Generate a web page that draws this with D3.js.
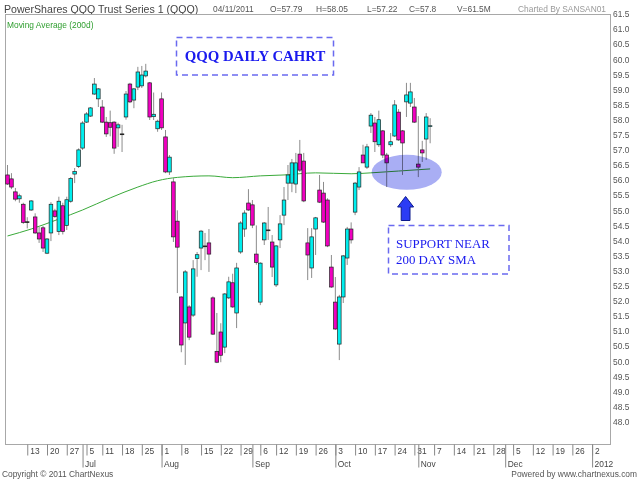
<!DOCTYPE html>
<html>
<head>
<meta charset="utf-8">
<title>QQQ daily</title>
<style>
  body { margin: 0; background: #fff; }
  svg { display: block; }
  text { font-family: "Liberation Sans", Arial, sans-serif; }
  text.serif { font-family: "Liberation Serif", "Times New Roman", serif; }
</style>
</head>
<body>
<script src="https://cdn.jsdelivr.net/npm/d3@7/dist/d3.min.js"></script>
<script>

// daily candles, 6 Jun 2011 .. 4 Nov 2011 (one entry per trading day)
var openV  = [56.17,56.04,55.61,55.38,55.20,54.62,55.01,54.78,54.25,54.42,
              53.58,54.25,54.98,54.30,55.15,54.50,55.30,56.20,56.45,57.06,
              57.92,58.12,58.85,58.69,58.42,57.92,57.90,57.92,57.73,57.53,
              58.09,59.18,58.65,59.08,59.12,59.45,59.22,58.10,57.70,58.69,
              57.43,56.27,55.94,54.64,52.13,51.27,51.80,51.53,53.40,53.75,
              53.82,53.92,52.10,50.33,50.97,50.47,52.10,52.60,51.60,53.62,
              54.38,55.24,55.18,53.55,51.96,54.02,54.35,53.95,52.53,54.02,
              54.84,55.90,55.90,55.87,56.86,56.63,53.92,53.09,54.38,55.67,
              55.57,55.34,53.12,51.96,50.57,52.13,53.42,54.38,54.94,55.77,
              56.83,56.43,57.79,57.89,57.17,57.63,56.83,57.17,57.46,58.25,
              57.63,58.59,58.55,58.42,56.53,57.00,57.36,57.79];
var highV  = [56.50,56.23,55.74,55.55,55.25,54.77,55.34,54.90,54.45,54.48,
              54.08,55.27,55.05,55.45,55.25,55.45,56.10,56.40,57.05,57.95,
              58.25,58.42,59.38,59.05,58.65,58.09,58.30,57.95,57.90,57.83,
              58.95,59.22,59.05,59.75,59.78,59.85,59.25,58.90,58.00,58.90,
              57.66,56.83,56.07,55.00,52.15,53.02,51.86,53.35,53.62,54.35,
              54.25,54.38,52.15,51.60,51.26,52.26,52.80,52.90,53.26,54.64,
              55.00,55.70,55.34,54.50,53.28,54.61,55.11,54.18,53.85,54.84,
              55.77,56.50,56.70,56.90,57.33,56.90,54.41,54.41,54.78,56.17,
              55.94,55.40,53.52,52.79,52.20,53.52,54.45,54.60,55.94,56.43,
              57.17,57.20,58.22,58.09,58.30,57.66,56.90,57.56,58.65,58.35,
              57.66,59.22,59.22,58.72,58.12,57.30,58.22,58.05];
var lowV   = [55.84,55.70,55.30,55.25,54.55,54.40,54.98,54.22,53.92,53.62,
              53.55,53.98,54.75,54.18,54.20,54.35,55.25,55.90,56.40,57.00,
              57.89,58.09,58.82,58.42,57.89,57.43,57.45,56.87,57.10,56.93,
              58.00,58.55,58.38,58.98,59.05,59.40,57.99,57.99,57.60,57.66,
              56.23,56.17,53.95,52.26,50.30,49.88,50.70,51.47,52.80,53.02,
              53.35,52.96,50.87,49.94,49.97,50.27,52.06,51.77,51.10,53.56,
              54.12,54.98,54.41,53.20,51.86,53.85,54.02,52.79,52.46,53.75,
              54.51,55.34,55.60,55.57,56.27,55.27,52.69,52.76,53.52,55.24,
              54.58,53.78,52.43,51.04,50.04,51.93,53.19,53.90,54.84,55.67,
              56.57,56.37,57.56,56.93,57.10,56.73,55.77,57.10,57.43,57.30,
              56.17,58.09,58.42,57.89,56.10,56.60,56.67,57.22];
var closeV = [55.87,55.77,55.37,55.48,54.60,54.62,55.31,54.25,54.05,53.75,
              54.05,55.20,54.80,55.30,54.30,55.35,56.05,56.28,57.00,57.89,
              58.19,58.39,59.18,59.02,57.92,57.53,57.75,57.06,57.83,57.53,
              58.85,58.59,59.02,59.58,59.48,59.61,58.09,58.18,57.95,57.73,
              56.27,56.76,54.12,53.78,50.54,52.96,50.80,53.06,53.53,54.31,
              53.82,53.55,50.90,49.97,50.20,52.23,52.63,51.80,53.09,54.58,
              54.91,55.01,54.51,53.27,53.25,54.58,54.35,53.12,53.82,54.55,
              55.34,56.17,56.57,56.57,56.33,55.31,53.52,54.12,54.75,55.27,
              54.61,53.82,52.46,51.07,52.13,53.49,54.38,54.02,55.90,56.27,
              56.57,57.10,58.15,57.27,58.00,56.83,56.57,57.27,58.49,57.33,
              57.23,58.82,58.92,57.92,56.43,56.90,58.09,57.80];

// 200 day moving average, read at a few trading-day positions
var smaDay   = [0, 6, 13, 19, 26, 33, 38, 43, 51, 57, 64, 70, 78, 87, 92, 99, 107];
var smaValue = [54.15,54.38,54.71,55.01,55.41,55.77,55.98,56.09,56.14,56.08,
                56.14,56.17,56.24,56.21,56.24,56.30,56.37];

// x axis: week ticks (trading-day index) and month ticks
var weekTickDay = [5,10,15,20,24,29,34,39,44,49,54,59,64,68,73,78,83,88,93,98,
                   103,108,113,118,123,128,133,138,143,148];
var weekTickLbl = ["13","20","27","5","11","18","25","1","8","15","22","29","6",
                   "12","19","26","3","10","17","24","31","7","14","21","28","5",
                   "12","19","26","2"];
var monthTickDay = [19, 39, 62, 83, 104, 126, 148];
var monthTickLbl = ["Jul","Aug","Sep","Oct","Nov","Dec","2012"];

var yTickVals = [48.0,48.5,49.0,49.5,50.0,50.5,51.0,51.5,52.0,52.5,53.0,53.5,54.0,
                 54.5,55.0,55.5,56.0,56.5,57.0,57.5,58.0,58.5,59.0,59.5,60.0,60.5,
                 61.0,61.5];

var width = 640, height = 480;
var plotL = 5, plotR = 610, plotT = 14, plotB = 444;

var svg = d3.select("body").append("svg")
    .attr("width", width)
    .attr("height", height);

var x = d3.scaleLinear().domain([0, 148]).range([7.5, 592.1]);
var y = d3.scaleLinear().domain([48, 61.5]).range([421.7, 14]);

// header
svg.append("text").attr("x", 4).attr("y", 12.5)
    .attr("font-size", 10.6).attr("fill", "#444")
    .text("PowerShares QQQ Trust Series 1 (QQQ)");
var info = [["04/11/2011", 213], ["O=57.79", 270], ["H=58.05", 316],
            ["L=57.22", 367], ["C=57.8", 409], ["V=61.5M", 457]];
svg.selectAll(".info").data(info).enter().append("text")
    .attr("x", function(d){ return d[1]; }).attr("y", 12)
    .attr("font-size", 8.4).attr("fill", "#555")
    .text(function(d){ return d[0]; });
svg.append("text").attr("x", 606).attr("y", 12).attr("text-anchor", "end")
    .attr("font-size", 8.4).attr("fill", "#999")
    .text("Charted By SANSAN01");

// frame
svg.append("rect")
    .attr("x", plotL + 0.5).attr("y", plotT + 0.5)
    .attr("width", plotR - plotL).attr("height", plotB - plotT)
    .attr("fill", "none").attr("stroke", "#a8a8a8");

svg.append("text").attr("x", 7).attr("y", 27.5)
    .attr("font-size", 8.4).attr("fill", "#2f9e2f")
    .text("Moving Average (200d)");

// y axis labels
var yAxis = svg.append("g")
    .attr("transform", "translate(" + (plotR + 1) + ",0)")
    .call(d3.axisRight(y).tickValues(yTickVals).tickSize(0).tickFormat(d3.format(".1f")));
yAxis.select(".domain").remove();
yAxis.selectAll("text").attr("x", 2).attr("font-size", 8.4).attr("fill", "#555");

// x axis: weeks
var wAxis = svg.append("g")
    .attr("transform", "translate(0," + (plotB + 0.5) + ")")
    .call(d3.axisBottom(x).tickValues(weekTickDay).tickSize(11)
        .tickFormat(function(d, i){ return weekTickLbl[i]; }));
wAxis.select(".domain").remove();
wAxis.selectAll("line").attr("stroke", "#888");
wAxis.selectAll("text").attr("x", 2.5).attr("y", 4).attr("dy", "0.71em")
    .attr("text-anchor", "start").attr("font-size", 8.4).attr("fill", "#444");

// x axis: months
var mAxis = svg.append("g")
    .attr("transform", "translate(0," + (plotB + 0.5) + ")")
    .call(d3.axisBottom(x).tickValues(monthTickDay).tickSize(23)
        .tickFormat(function(d, i){ return monthTickLbl[i]; }));
mAxis.select(".domain").remove();
mAxis.selectAll("line").attr("stroke", "#888");
mAxis.selectAll("text").attr("x", 2).attr("y", 16.5).attr("dy", "0.71em")
    .attr("text-anchor", "start").attr("font-size", 8.4).attr("fill", "#444");

// moving average
var sma = d3.line()
    .x(function(d){ return x(d[0]); })
    .y(function(d){ return y(d[1]); })
    .curve(d3.curveMonotoneX);
svg.append("path")
    .datum(d3.zip(smaDay, smaValue))
    .attr("d", sma)
    .attr("fill", "none")
    .attr("stroke", "#3aaa3a")
    .attr("stroke-width", 1);

// candles
var candles = d3.range(openV.length).map(function(i){
    return { i: i, o: openV[i], h: highV[i], l: lowV[i], c: closeV[i] };
});
var bw = 3.6;
var cg = svg.append("g");
cg.selectAll(".wick").data(candles).enter().append("line")
    .attr("x1", function(d){ return x(d.i); })
    .attr("x2", function(d){ return x(d.i); })
    .attr("y1", function(d){ return y(d.h); })
    .attr("y2", function(d){ return y(d.l); })
    .attr("stroke", "#8c8c8c")
    .attr("stroke-width", 1);
cg.selectAll(".body").data(candles).enter().append("rect")
    .attr("x", function(d){ return x(d.i) - bw / 2; })
    .attr("y", function(d){ return y(Math.max(d.o, d.c)); })
    .attr("width", bw)
    .attr("height", function(d){ return Math.max(0.8, Math.abs(y(d.o) - y(d.c))); })
    .attr("fill", function(d){ return d.c > d.o ? "#00eeee" : (d.c < d.o ? "#f000c0" : "#000"); })
    .attr("stroke", "#222")
    .attr("stroke-width", 0.7);

// annotations
svg.append("rect")
    .attr("x", 176.5).attr("y", 37.5).attr("width", 157).attr("height", 37.5)
    .attr("fill", "none").attr("stroke", "#6a6af0").attr("stroke-width", 1.5)
    .attr("stroke-dasharray", "6,4");
svg.append("text").attr("class", "serif")
    .attr("x", 255).attr("y", 61).attr("text-anchor", "middle")
    .attr("font-weight", "bold").attr("font-size", 14.8).attr("fill", "#1a1aee")
    .text("QQQ DAILY CAHRT");

svg.append("ellipse")
    .attr("cx", 406.7).attr("cy", 172.3).attr("rx", 35).attr("ry", 17.5)
    .attr("fill", "#a9aef4")
    .style("mix-blend-mode", "multiply");

svg.append("path")
    .attr("d", "M405.6,196.5 L413.6,207 L410,207 L410,220.5 L401.2,220.5 L401.2,207 L397.6,207 Z")
    .attr("fill", "#2b3cf5").attr("stroke", "#0c1a8c").attr("stroke-width", 1);

svg.append("rect")
    .attr("x", 388.5).attr("y", 225.5).attr("width", 120.5).attr("height", 48.5)
    .attr("fill", "none").attr("stroke", "#6a6af0").attr("stroke-width", 1.5)
    .attr("stroke-dasharray", "6,4");
svg.append("text").attr("class", "serif").attr("x", 396).attr("y", 247.5)
    .attr("font-size", 12.9).attr("fill", "#1a1aee")
    .text("SUPPORT NEAR");
svg.append("text").attr("class", "serif").attr("x", 396).attr("y", 263.5)
    .attr("font-size", 12.9).attr("fill", "#1a1aee")
    .text("200 DAY SMA");

// footer
svg.append("text").attr("x", 2).attr("y", 477)
    .attr("font-size", 8.4).attr("fill", "#555")
    .text("Copyright \u00a9 2011 ChartNexus");
svg.append("text").attr("x", 637).attr("y", 477).attr("text-anchor", "end")
    .attr("font-size", 8.4).attr("fill", "#555")
    .text("Powered by www.chartnexus.com");

</script>
</body>
</html>
